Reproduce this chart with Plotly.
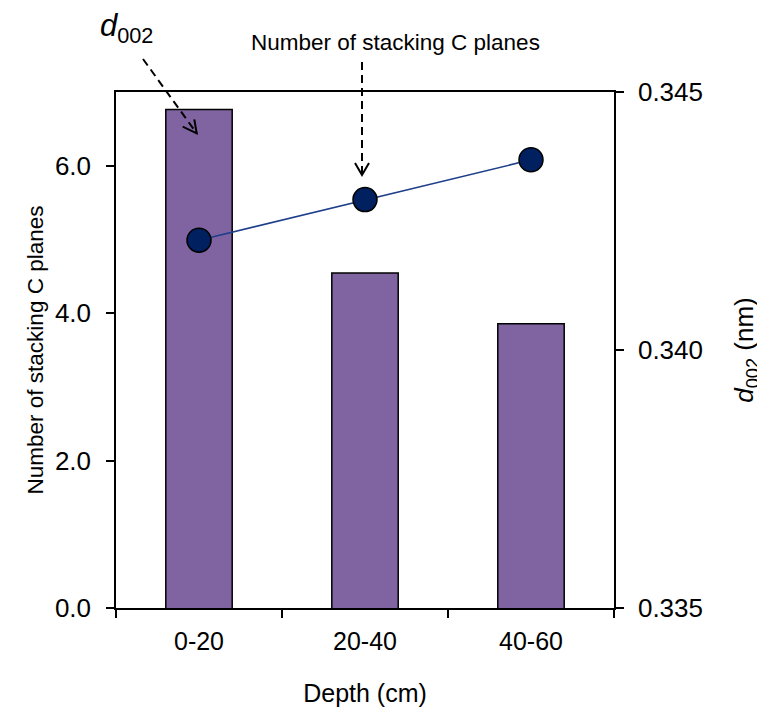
import plotly.graph_objects as go

# ---- data ----
depth = ["0-20", "20-40", "40-60"]
d002_nm = [0.34466, 0.34149, 0.34051]          # bars (right axis)
stacking_planes = [4.99, 5.54, 6.08]           # line + markers (left axis)
left_ticks = [0, 2, 4, 6]
left_ticklabels = ["0.0", "2.0", "4.0", "6.0"]
right_ticks = [0.335, 0.340, 0.345]
right_ticklabels = ["0.335", "0.340", "0.345"]

# page body has an 8px margin; figure is sized to fit the 765x713 window
OFF = 8
W, H = 765 - OFF, 713 - OFF
L, R, T, B = 116, 614, 92, 608   # plot area in page pixels

def px(x):
    return (x - L) / (R - L)

def py(y):
    return (B - y) / (B - T)

FONT = "Arial, Liberation Sans, sans-serif"

fig = go.Figure()
# bars on base axis (drawn below), line on overlaying axis (drawn above)
fig.add_trace(go.Bar(
    x=depth, y=d002_nm, yaxis="y", width=0.4,
    marker=dict(color="#8064A2", line=dict(color="black", width=1.5)),
    showlegend=False,
))
fig.add_trace(go.Scatter(
    x=depth, y=stacking_planes, yaxis="y2", mode="lines+markers",
    line=dict(color="#1F3F8A", width=1.5),
    marker=dict(size=24, color="#002060", line=dict(color="black", width=1.5)),
    showlegend=False,
))

axis_common = dict(
    showline=True, linecolor="black", linewidth=1.5,
    ticks="outside", ticklen=8, tickwidth=1.5, tickcolor="black",
    showgrid=False, zeroline=False, automargin=False,
)

fig.update_layout(
    width=W, height=H,
    margin=dict(l=L - OFF, r=W - (R - OFF), t=T - OFF, b=H - (B - OFF), autoexpand=False),
    paper_bgcolor="white", plot_bgcolor="white",
    font=dict(family=FONT, size=24, color="black"),
    xaxis=dict(
        type="category", mirror=True, tickson="boundaries",
        tickfont=dict(size=25), ticklabelstandoff=10,
        title=dict(text="Depth (cm)", font=dict(size=25), standoff=31),
        **axis_common,
    ),
    # d002 axis (right)
    yaxis=dict(
        side="right",
        range=[0.335, 0.345],
        tickvals=right_ticks, ticktext=right_ticklabels,
        tickfont=dict(size=26), ticklabelstandoff=9,
        title=dict(text="<i>d</i><sub>002</sub> (nm)", font=dict(size=26), standoff=33),
        **axis_common,
    ),
    # stacking planes axis (left)
    yaxis2=dict(
        overlaying="y", side="left",
        range=[0, 7], tickvals=left_ticks, ticktext=left_ticklabels,
        tickfont=dict(size=26), ticklabelstandoff=10,
        title=dict(text="Number of stacking C planes", font=dict(size=22.5), standoff=5),
        **axis_common,
    ),
)

# ---- annotations ----
fig.add_annotation(
    text="<i>d</i><sub>002</sub>", xref="paper", yref="paper",
    x=px(98), y=py(50), xanchor="left", yanchor="bottom",
    showarrow=False, font=dict(size=31, family=FONT),
)
fig.add_annotation(
    text="Number of stacking C planes", xref="paper", yref="paper",
    x=px(395), y=py(42), xanchor="center", yanchor="middle",
    showarrow=False, font=dict(size=22.5, family=FONT),
)

dash = "8px,5px"
# d002 arrow
fig.add_shape(type="line", xref="paper", yref="paper",
              x0=px(143), y0=py(59), x1=px(196.7), y1=py(133.3),
              line=dict(color="black", width=2, dash=dash))
fig.add_shape(type="path", xref="paper", yref="paper",
              path=f"M {px(182.7)},{py(126.7)} L {px(196.7)},{py(133.3)} L {px(194.3)},{py(119.3)}",
              line=dict(color="black", width=2))
# stacking arrow
fig.add_shape(type="line", xref="paper", yref="paper",
              x0=px(362), y0=py(62), x1=px(362), y1=py(175),
              line=dict(color="black", width=2, dash=dash))
fig.add_shape(type="path", xref="paper", yref="paper",
              path=f"M {px(355)},{py(163)} L {px(362)},{py(175)} L {px(369)},{py(163)}",
              line=dict(color="black", width=2))

fig.write_html("out.html")
